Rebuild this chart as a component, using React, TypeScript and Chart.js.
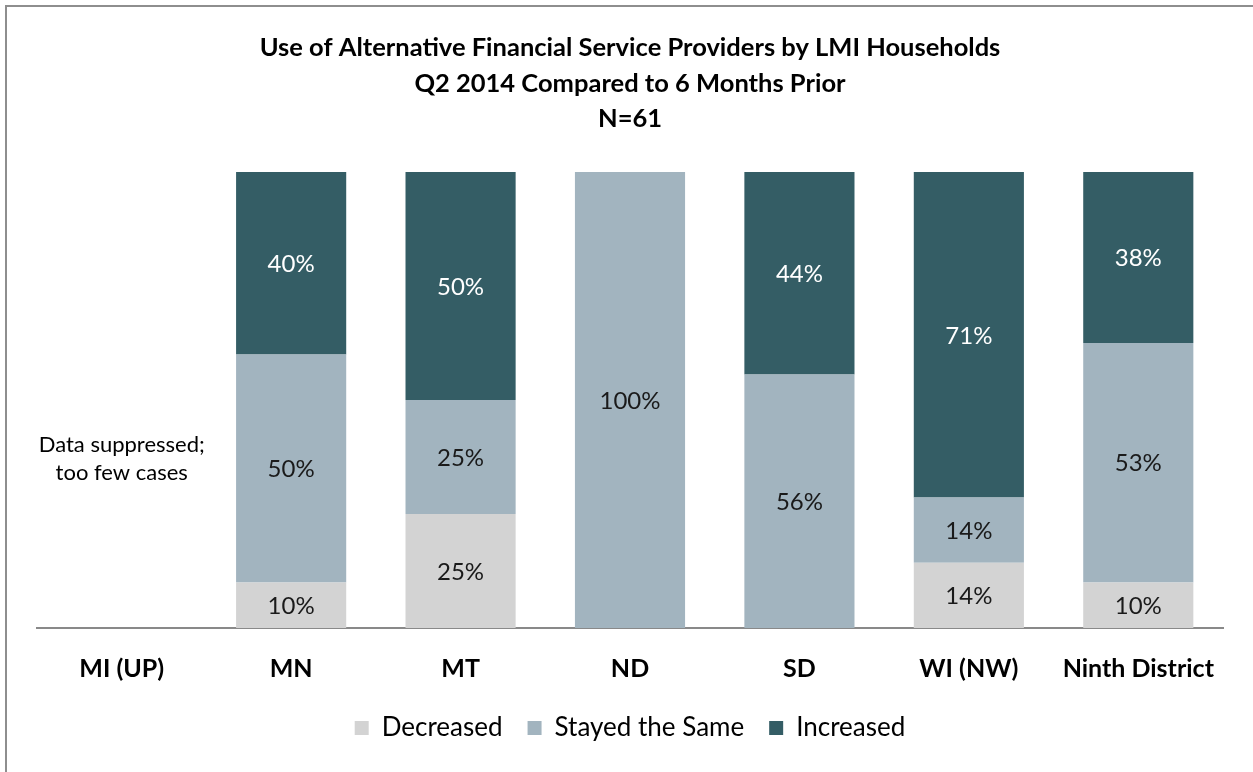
import React, { useEffect, useRef } from "react";
import { Chart, registerables } from "chart.js";

Chart.register(...registerables);

const categories = ["MI (UP)", "MN", "MT", "ND", "SD", "WI (NW)", "Ninth District"];
const seriesNames = ["Decreased", "Stayed the Same", "Increased"];
const decreased = [0, 10, 25, 0, 0, 14.3, 10];
const stayedSame = [0, 50, 25, 100, 55.6, 14.3, 52.5];
const increased = [0, 40, 50, 0, 44.4, 71.4, 37.5];
const titleLines = [
  "Use of Alternative Financial Service Providers by LMI Households",
  "Q2 2014 Compared to 6 Months Prior",
  "N=61",
];
const suppressedNote = ["Data suppressed;", "too few cases"];
const suppressedCategory = 0;

const FONT = "Lato, 'Open Sans', sans-serif";
const seriesColors = ["#D3D3D3", "#A2B4BF", "#345D65"];
const labelColors = ["#1a1a1a", "#1a1a1a", "#ffffff"];

const valueLabels = {
  id: "valueLabels",
  afterDatasetsDraw(chart: any) {
    const ctx = chart.ctx;
    ctx.save();
    ctx.textAlign = "center";
    ctx.textBaseline = "middle";
    chart.data.datasets.forEach((ds: any, di: number) => {
      const meta = chart.getDatasetMeta(di);
      meta.data.forEach((el: any, i: number) => {
        const v = ds.data[i];
        if (!v) return;
        const p = el.getProps(["x", "y", "base"], true);
        ctx.font = `24px ${FONT}`;
        ctx.fillStyle = labelColors[di];
        ctx.fillText(Math.round(v) + "%", p.x, (p.y + p.base) / 2 + 1);
      });
    });
    const xs = chart.scales.x;
    const ys = chart.scales.y;
    const cx = xs.getPixelForValue(suppressedCategory);
    const cy = ys.getPixelForValue(37);
    ctx.font = `22px ${FONT}`;
    ctx.fillStyle = "#000000";
    ctx.fillText(suppressedNote[0], cx, cy - 14);
    ctx.fillText(suppressedNote[1], cx, cy + 14);
    ctx.restore();
  },
};

export default function App() {
  const ref = useRef<HTMLCanvasElement>(null);
  useEffect(() => {
    if (!ref.current) return;
    const chart = new Chart(ref.current, {
      type: "bar",
      data: {
        labels: categories,
        datasets: [decreased, stayedSame, increased].map((d, i) => ({
          label: seriesNames[i],
          data: d,
          backgroundColor: seriesColors[i],
          borderWidth: 0,
          categoryPercentage: 1,
          barPercentage: 0.65,
        })),
      },
      options: {
        responsive: false,
        animation: false,
        devicePixelRatio: 1,
        layout: { padding: { left: 37, right: 30, top: 0, bottom: 21 } },
        scales: {
          x: {
            stacked: true,
            grid: { display: false, drawTicks: false },
            border: { display: true, color: "#898989", width: 2 },
            ticks: { font: { family: FONT, size: 25, weight: "bold" }, color: "#000", padding: 26 },
            afterFit: (scale: any) => {
              scale.height = 62;
            },
          },
          y: {
            stacked: true,
            display: false,
            min: 0,
            max: 100,
          },
        },
        plugins: {
          title: {
            display: true,
            text: titleLines,
            color: "#000",
            font: { family: FONT, size: 25.5, weight: "bold", lineHeight: 35.5 / 25.5 },
            padding: { top: 30.25, bottom: 35.25 },
          },
          legend: {
            position: "bottom",
            labels: {
              boxWidth: 14,
              boxHeight: 14,
              padding: 25,
              color: "#000",
              font: { family: FONT, size: 26 },
            },
          },
          tooltip: { enabled: false },
        },
      },
      plugins: [valueLabels],
    });
    return () => chart.destroy();
  }, []);
  return (
    <div style={{ position: "fixed", left: 0, top: 0, width: 1253, height: 772, overflow: "hidden", background: "#fff" }}>
      <div style={{ position: "absolute", left: 5, top: 5, width: 1300, height: 820, border: "2px solid #8e8e8e" }} />
      <canvas ref={ref} width={1253} height={772} style={{ position: "absolute", left: 0, top: 0 }} />
    </div>
  );
}
